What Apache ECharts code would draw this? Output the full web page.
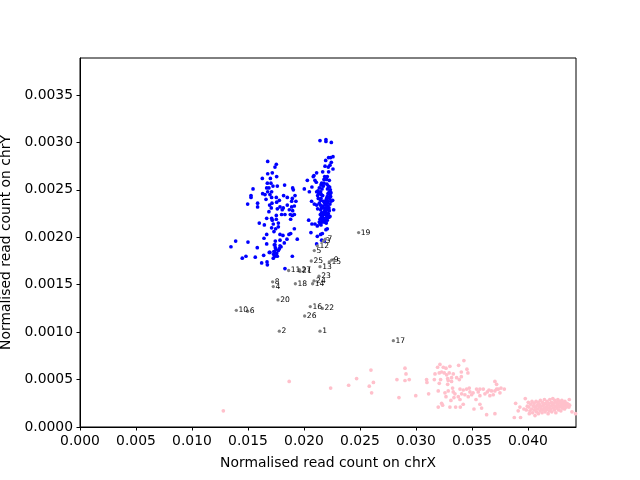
<!DOCTYPE html>
<html><head><meta charset="utf-8">
<style>html,body{margin:0;padding:0;background:#fff}#c{width:640px;height:480px}</style>
<script src="https://cdn.jsdelivr.net/npm/echarts@6/dist/echarts.min.js"></script>
</head><body><div id="c"></div>
<script>
const xTicks=[0,0.005,0.01,0.015,0.02,0.025,0.03,0.035,0.04];
const yTicks=[0,0.0005,0.001,0.0015,0.002,0.0025,0.003,0.0035];
const xTitle='Normalised read count on chrX';
const yTitle='Normalised read count on chrY';
const xLimit=0.04429, yLimit=0.00389;
const bluePoints=[[.01676,.0028],[.01753,.00277],[.01741,.00274],[.01676,.00267],[.01717,.00268],[.01756,.00264],[.01628,.00262],[.017,.00262],[.01673,.00257],[.01705,.00257],[.01827,.00255],[.01762,.00254],[.01723,.00254],[.01545,.00251],[.01667,.00252],[.01687,.00252],[.01899,.00252],[.01905,.0025],[.01631,.00246],[.01652,.00245],[.01676,.00248],[.01711,.00248],[.01696,.00245],[.01527,.00244],[.01527,.00242],[.01661,.0024],[.01711,.00242],[.01753,.00242],[.01818,.00244],[.01851,.00242],[.0192,.00244],[.01896,.00241],[.0189,.00238],[.01928,.00238],[.0178,.00239],[.01756,.00237],[.01497,.00235],[.01586,.00236],[.01586,.00232],[.01714,.00236],[.01693,.00234],[.01851,.00234],[.01914,.00233],[.01708,.00231],[.01762,.0023],[.01786,.00232],[.01815,.00231],[.01806,.00229],[.0189,.00232],[.01869,.00229],[.01687,.00227],[.01899,.00228],[.018,.00224],[.0183,.00224],[.01753,.00223],[.01878,.00224],[.01914,.00224],[.01896,.00223],[.01667,.0022],[.01711,.0022],[.01717,.00218],[.01753,.00219],[.01881,.00219],[.01601,.00215],[.01646,.00213],[.01726,.00214],[.01771,.00215],[.01771,.00211],[.01711,.0021],[.01747,.00209],[.01732,.00206],[.01914,.00209],[.01881,.00204],[.01866,.00203],[.01667,.00203],[.01786,.00203],[.01812,.00202],[.01643,.00199],[.01848,.00198],[.0194,.00198],[.0139,.00196],[.015,.00195],[.01667,.00193],[.01744,.00196],[.01786,.00197],[.01824,.00194],[.01348,.0019],[.01583,.00189],[.01741,.00192],[.01786,.00191],[.0178,.00188],[.0175,.00187],[.01696,.00184],[.01732,.00185],[.01482,.0018],[.01449,.00178],[.01565,.00179],[.0164,.00181],[.01741,.0018],[.01762,.0018],[.01896,.0018],[.01726,.00178],[.01622,.00173],[.0167,.00174],[.01673,.00171],[.0183,.00167],[.0169,.00184],[.01735,.00185],[.01771,.00186],[.01735,.00192],[.01795,.0019],[.01744,.00189],[.01756,.00183],[.01729,.00182],
[.02143,.00302],[.02196,.00303],[.02196,.00301],[.02244,.003],[.02259,.00285],[.02238,.00284],[.0222,.00284],[.02194,.00281],[.02244,.00279],[.02232,.00276],[.02188,.00275],[.02217,.00274],[.02259,.00272],[.0222,.00269],[.02167,.00269],[.02113,.00268],[.02089,.00265],[.02083,.00264],[.02185,.00264],[.02208,.00264],[.02226,.0026],[.0203,.0026],[.02098,.0026],[.0211,.00258],[.02179,.00261],[.02202,.00261],[.02158,.00257],[.02179,.00257],[.02205,.00256],[.02071,.00253],[.02003,.00251],[.02048,.00248],[.02113,.00248],[.02068,.00238],[.02256,.00239],[.02113,.00234],[.02092,.00235],[.02265,.00229],[.02122,.0023],[.02042,.00218],[.02071,.00214],[.02098,.00214],[.02119,.00212],[.02143,.00214],[.02208,.00209],[.02196,.00208],[.02062,.00205],[.02119,.00201],[.02149,.00203],[.02164,.00204],[.02113,.00193],[.02158,.00197],[.02182,.00196],
[.02152,.00255],[.02173,.00254],[.02217,.00254],[.02229,.00253],[.02137,.00252],[.02161,.00251],[.0221,.00251],[.02235,.0025],[.02125,.00249],[.02149,.00248],[.02226,.00248],[.02241,.00247],[.02131,.00246],[.02155,.00245],[.02214,.00246],[.02232,.00245],[.02122,.00244],[.02167,.00244],[.02208,.00243],[.02238,.00243],[.02128,.00241],[.02152,.00241],[.02202,.00241],[.02229,.00241],[.02149,.00239],[.02173,.00238],[.02196,.00239],[.02217,.00238],[.02241,.00238],[.02137,.00236],[.02185,.00236],[.02208,.00236],[.02232,.00235],[.02146,.00234],[.02167,.00233],[.02191,.00234],[.02214,.00233],[.02155,.00231],[.02176,.00231],[.02199,.00231],[.02223,.00231],[.02149,.00229],[.02185,.00228],[.02208,.00229],[.02226,.00228],[.02158,.00226],[.02179,.00226],[.02199,.00226],[.02217,.00225],[.02146,.00224],[.02167,.00223],[.02191,.00224],[.02214,.00223],[.02232,.00222],[.02155,.00221],[.02176,.0022],[.02202,.00221],[.02223,.00221],[.02143,.00219],[.02164,.00218],[.02188,.00218],[.02208,.00218],[.02137,.00216],[.02161,.00216],[.02182,.00216],[.02199,.00215],[.02152,.00213]];
const pinkPoints=[[.0128,.00017],[.01868,.00048],[.02238,.00041],[.02399,.00044],[.0247,.00051],[.02583,.00043],[.0262,.00047],[.02604,.00036],[.02598,.0006],[.0283,.0005],[.02848,.00031],[.02902,.00049],[.02911,.00056],[.0294,.0005],[.02902,.00062],[.02998,.00033],[.03095,.0005],[.03098,.00047],[.03113,.00035],[.03193,.00063],[.03214,.00066],[.03244,.00063],[.03268,.00062],[.03303,.00064],[.03381,.00065],[.03428,.0007],[.03455,.00061],[.03464,.00057],[.03405,.00058],[.0317,.00056],[.03208,.00057],[.03229,.00058],[.03253,.00057],[.03274,.00055],[.03297,.00057],[.03333,.00056],[.03363,.00052],[.03405,.00053],[.03387,.0005],[.03164,.0005],[.0322,.0005],[.03208,.00046],[.03283,.00051],[.03318,.00052],[.03288,.00049],[.03318,.00048],[.03283,.00045],[.03705,.00048],[.0372,.00045],[.03199,.00038],[.03288,.00038],[.03327,.00041],[.03259,.00036],[.03393,.0004],[.03476,.00041],[.03541,.0004],[.03759,.00041],[.03789,.0004],[.03333,.00037],[.03422,.00039],[.03452,.0004],[.03571,.0004],[.03601,.0004],[.03637,.00037],[.03675,.00038],[.03705,.00038],[.03735,.0004],[.0372,.0004],[.0375,.00036],[.0366,.00033],[.0369,.00034],[.03571,.00033],[.03536,.00029],[.03497,.00034],[.03467,.00032],[.03437,.00034],[.03408,.00035],[.03378,.00032],[.03393,.00029],[.03348,.00035],[.03268,.00032],[.03339,.00031],[.03312,.00028],[.03229,.00025],[.03238,.00023],[.03199,.00021],[.03303,.00021],[.03354,.00021],[.03396,.00021],[.03422,.00024],[.03518,.00019],[.03571,.00024],[.03586,.0002],[.03631,.00013],[.03705,.00014],[.03482,.00037],[.0351,.00036],[.03556,.00037],[.03616,.00035],[.03652,.00039],
[.03878,.0001],[.03934,.0001],[.0389,.00025],[.03976,.0003],[.03913,.00017],[.03928,.00021],[.03964,.00019],[.03994,.00022],[.04012,.00014],[.04369,.00029],[.04393,.00016],[.04425,.00014],
[.03985,.00018],[.04003,.00026],[.04009,.00021],[.04018,.00017],[.04024,.00024],[.04033,.00019],[.04036,.00027],[.04042,.00015],[.04048,.00022],[.04054,.00025],[.04057,.00018],[.04063,.00012],[.04066,.00021],[.04072,.00027],[.04075,.00016],[.04081,.00023],[.04084,.00019],[.0409,.00026],[.04093,.00014],[.04099,.00021],[.04102,.00024],[.04108,.00017],[.04111,.00028],[.04117,.00019],[.0412,.00022],[.04126,.00015],[.04129,.00026],[.04135,.00018],[.04138,.00023],[.04144,.0002],[.04147,.00029],[.04153,.00016],[.04156,.00025],[.04162,.00021],[.04165,.00018],[.04171,.00027],[.04174,.00023],[.0418,.00014],[.04183,.0002],[.04189,.00025],[.04192,.00017],[.04195,.00029],[.04201,.00022],[.04204,.00019],[.0421,.00026],[.04213,.00016],[.04219,.00023],[.04222,.0003],[.04228,.0002],[.04231,.00025],[.04237,.00018],[.0424,.00028],[.04246,.00022],[.04249,.00015],[.04255,.00026],[.04258,.0002],[.04264,.00024],[.04267,.00029],[.04273,.00018],[.04276,.00022],[.04282,.00027],[.04285,.00021],[.04291,.00025],[.04294,.00017],[.043,.00023],[.04303,.00028],[.04309,.0002],[.04312,.00026],[.04318,.00022],[.04321,.00024],[.04327,.00019],[.0433,.00027],[.04336,.00023],[.04342,.00021],[.04348,.00025],[.04354,.00022],[.0436,.00024],[.04366,.00021],[.04372,.00023]];
const sampleIds=['1','2','3','4','5','6','7','8','9','10','11','12','13','14','15','16','17','18','19','20','21','22','23','24','25','26','27'];
const sampleX=[.02143,.0178,.02173,.01726,.02092,.01497,.0219,.0172,.02247,.01396,.01863,.02119,.02143,.02077,.02226,.02056,.02798,.01923,.02488,.01768,.01964,.02164,.02134,.02089,.02065,.02006,.01958];
const sampleY=[.00101,.00101,.00196,.00148,.00186,.00122,.00198,.00153,.00176,.00123,.00165,.00191,.00169,.00151,.00174,.00127,.00091,.00151,.00205,.00134,.00164,.00125,.00159,.00154,.00175,.00117,.00166];
const font='"DejaVu Sans"';
const axisBase={min:0,type:'value',splitLine:{show:false},
  axisLine:{show:true,onZero:false,lineStyle:{color:'#000',width:1}},
  nameLocation:'middle',nameTextStyle:{color:'#000',fontFamily:font,fontSize:13.9}};
const chart=echarts.init(document.getElementById('c'),null,{renderer:'canvas'});
chart.setOption({
  animation:false,backgroundColor:'#fff',
  grid:{left:80,right:64,top:58,bottom:53,outerBoundsMode:'none',containLabel:false,show:true,borderColor:'#000',borderWidth:1,backgroundColor:'transparent'},
  xAxis:Object.assign({},axisBase,{max:xLimit,name:xTitle,nameGap:29,
    axisTick:{show:true,length:3.5,customValues:xTicks,lineStyle:{color:'#000',width:1}},
    axisLabel:{customValues:xTicks,color:'#000',fontFamily:font,fontSize:13.9,margin:7,formatter:v=>v.toFixed(3),hideOverlap:false}}),
  yAxis:Object.assign({},axisBase,{max:yLimit,name:yTitle,nameGap:61,
    axisTick:{show:true,length:3.5,customValues:yTicks,lineStyle:{color:'#000',width:1}},
    axisLabel:{customValues:yTicks,color:'#000',fontFamily:font,fontSize:13.9,margin:7,formatter:v=>v.toFixed(4),hideOverlap:false}}),
  series:[
    {type:'scatter',data:bluePoints,symbolSize:3.7,itemStyle:{color:'#0000ff',opacity:1},silent:true},
    {type:'scatter',data:pinkPoints,symbolSize:3.7,itemStyle:{color:'#ffc0cb',opacity:1},silent:true},
    {type:'scatter',data:sampleIds.map((id,i)=>({value:[sampleX[i],sampleY[i]],name:id})),symbolSize:3.3,
     itemStyle:{color:'#808080',opacity:1},silent:true,
     label:{show:true,position:'right',distance:0.5,offset:[0,-3.5],formatter:p=>p.name,color:'#000',fontFamily:font,fontSize:7.6},
     labelLayout:{hideOverlap:false}}
  ]
});
</script></body></html>
